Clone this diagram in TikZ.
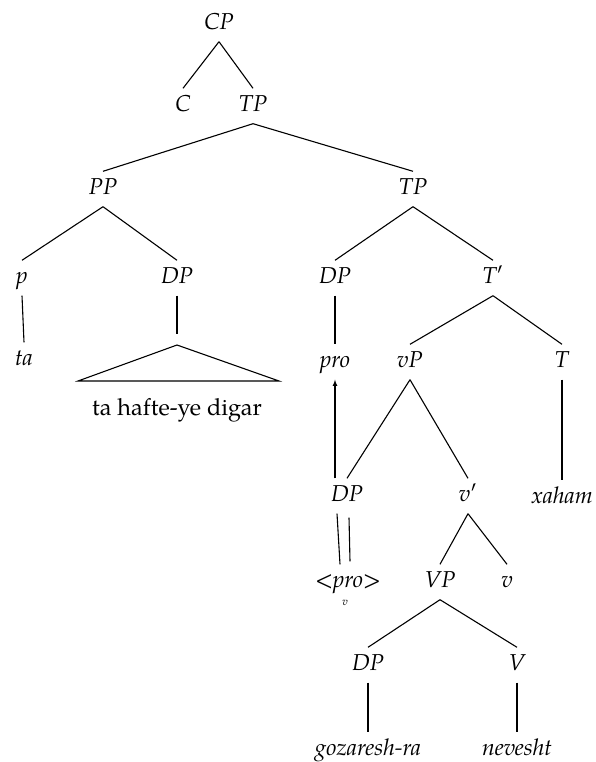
\documentclass[tikz,border=0pt]{standalone}
\usepackage{fontspec}
\setmainfont{texgyrepagella}[Extension=.otf, UprightFont=*-regular, ItalicFont=*-italic, BoldFont=*-bold, BoldItalicFont=*-bolditalic]
\begin{document}
\begin{tikzpicture}[x=1pt,y=-1pt,
  lab/.style={font=\fontsize{23}{27}\selectfont\itshape, text height=16pt, text depth=5pt, inner xsep=2pt, inner ysep=7pt},
  up/.style={font=\fontsize{23.5}{27}\selectfont, inner sep=2pt},
  edge/.style={line width=1.1pt}]
\useasboundingbox (0,0) rectangle (595,762);
% nodes
\node[lab] (cp) at (219,24) {CP};
\node[lab] (c) at (183,106) {C};
\node[lab] (tp1) at (253,106) {TP};
\node[lab] (pp) at (103,189) {PP};
\node[lab] (tp2) at (413,189) {TP};
\node[lab] (p) at (22,278) {p};
\node[lab] (dp1) at (177,278) {DP};
\node[lab] (dp2) at (335,278) {DP};
\node[lab] (tbar) at (493,278) {T′};
\node[lab] (ta) at (24,360) {ta};
\node[up] (hafte) at (177,410) {ta hafte-ye digar};
\node[lab] (pro) at (335,362) {pro};
\node[lab] (vp) at (410,362) {vP};
\node[lab] (t) at (562,362) {T};
\node[lab] (dp3) at (347,496) {DP};
\node[lab] (vbar) at (468,496) {v′};
\node[lab] (xaham) at (562,498) {xaham};
\node[lab] (tpro) at (348,582) {<pro>};
\node[font=\fontsize{11}{12}\selectfont\itshape, inner sep=0pt] (vmark) at (345,603) {v};
\node[lab] (vpp) at (440,582) {VP};
\node[lab] (v) at (507,582) {v};
\node[lab] (dp4) at (368,665) {DP};
\node[lab] (vv) at (517,665) {V};
\node[lab] (goz) at (368,750) {gozaresh-ra};
\node[lab] (nev) at (517,750) {nevesht};
% triangle
\coordinate (tritop) at (177,334);
\coordinate (apex) at (177,345);
\coordinate (bl) at (78,381);
\coordinate (br) at (279,381);
\draw[edge] (apex) -- (bl) -- (br) -- cycle;
% edges
\draw[edge] (cp.south) -- (c.north);
\draw[edge] (cp.south) -- (tp1.north);
\draw[edge] (tp1.south) -- (pp.north);
\draw[edge] (tp1.south) -- (tp2.north);
\draw[edge] (pp.south) -- (p.north);
\draw[edge] (pp.south) -- (dp1.north);
\draw[edge] (tp2.south) -- (dp2.north);
\draw[edge] (tp2.south) -- (tbar.north);
\draw[edge] (p.south) -- (ta.north);
\draw[edge] (dp1.south) -- (tritop);
\draw[edge] (dp2.south) -- (pro.north);
\draw[edge] (tbar.south) -- (vp.north);
\draw[edge] (tbar.south) -- (t.north);
\draw[edge] (t.south) -- (xaham.north);
\draw[edge] (vp.south) -- (dp3.north);
\draw[edge] (vp.south) -- (vbar.north);
\draw[edge,-latex] (pro.south |- dp3.north) -- (pro.south);
\draw[edge] ([xshift=-10pt]dp3.south) -- ([xshift=-8pt]tpro.north);
\draw[edge] ([xshift=2pt,yshift=-4pt]dp3.south) -- ([xshift=2pt,yshift=3pt]tpro.north);
\draw[edge] (vbar.south) -- (vpp.north);
\draw[edge] (vbar.south) -- (v.north);
\draw[edge] (vpp.south) -- (dp4.north);
\draw[edge] (vpp.south) -- (vv.north);
\draw[edge] (dp4.south) -- (goz.north);
\draw[edge] (vv.south) -- (nev.north);
\end{tikzpicture}
\end{document}
